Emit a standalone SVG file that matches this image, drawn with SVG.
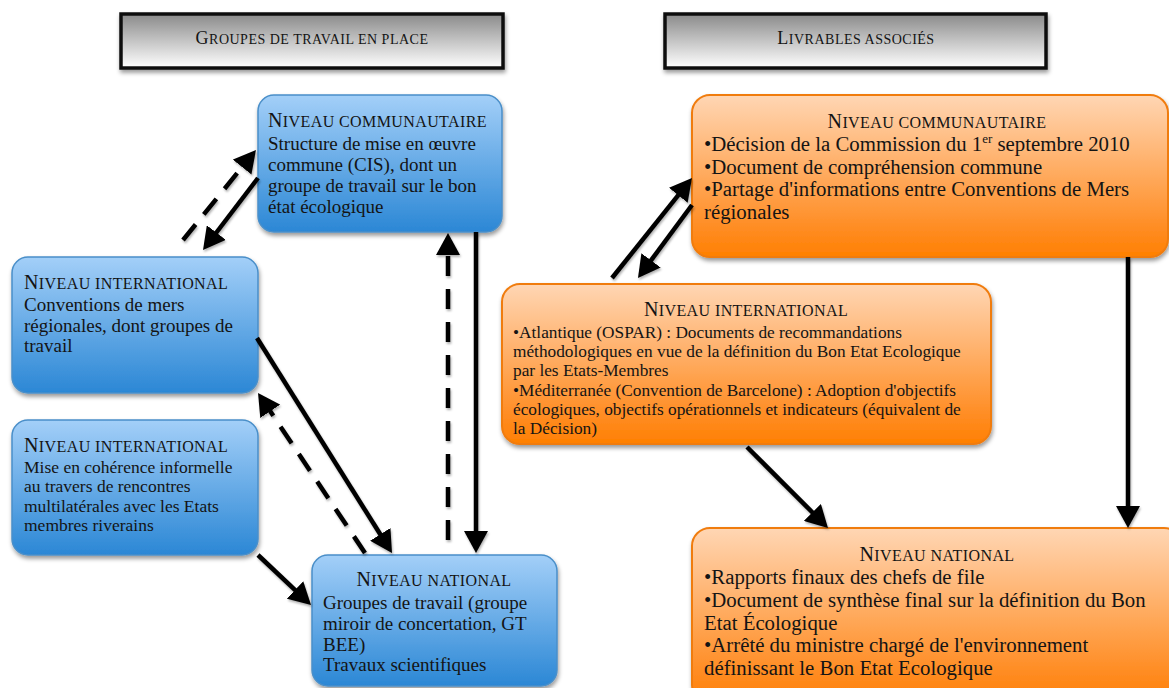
<svg xmlns="http://www.w3.org/2000/svg" width="1169" height="688" viewBox="0 0 1169 688">
<defs>
<linearGradient id="gHead" x1="0" y1="0" x2="0" y2="1"><stop offset="0" stop-color="#8a8a8a"/><stop offset="1" stop-color="#ffffff"/></linearGradient>
<linearGradient id="gBlue" x1="0" y1="0" x2="0" y2="1"><stop offset="0" stop-color="#a3cff8"/><stop offset="1" stop-color="#2b87d5"/></linearGradient>
<linearGradient id="gOrange" x1="0" y1="0" x2="0" y2="1"><stop offset="0" stop-color="#ffd6b4"/><stop offset="0.85" stop-color="#ff8a1e"/><stop offset="1" stop-color="#ff8000"/></linearGradient>
<filter id="sh" x="-10%" y="-10%" width="130%" height="140%"><feDropShadow dx="1" dy="3" stdDeviation="2" flood-color="#000" flood-opacity="0.4"/></filter>
<filter id="ash" x="-20%" y="-20%" width="140%" height="140%"><feDropShadow dx="1" dy="2" stdDeviation="1.2" flood-color="#000" flood-opacity="0.3"/></filter>
<marker id="ah" viewBox="0 0 22 24" refX="10" refY="12" markerWidth="22" markerHeight="24" markerUnits="userSpaceOnUse" orient="auto"><path d="M0,0 L22,12 L0,24 z" fill="#000"/></marker>
</defs>
<style>
.t{font-family:"Liberation Serif","Times New Roman",serif;fill:#141414}
.hd{letter-spacing:0.5px}
.hc{font-size:18px}
.hs{font-size:14px}
.ttl{letter-spacing:0.4px}
.cap{font-size:20px}
.sc{font-size:16px}
.b1{font-size:19px}
.b3{font-size:17.5px}
.ob{font-size:20.8px}
.oi{font-size:17.3px}
.head{fill:url(#gHead);stroke:#111;stroke-width:3.5}
.blue{fill:url(#gBlue);stroke:#4a8fc9;stroke-width:1.5}
.orange{fill:url(#gOrange);stroke:#f07c10;stroke-width:2}
.ln{fill:none;stroke:#000;stroke-width:4.5;marker-end:url(#ah)}
.dash{stroke-dasharray:20 13}
</style>
<rect width="1169" height="688" fill="#fff"/>

<g id="header-groupes">
<rect x="121" y="14" width="382" height="54" class="head" filter="url(#sh)"/>
<text x="312" y="44" text-anchor="middle" class="t hd"><tspan class="hc">G</tspan><tspan class="hs">ROUPES DE TRAVAIL EN PLACE</tspan></text>
</g>
<g id="header-livrables">
<rect x="665" y="14" width="381" height="54" class="head" filter="url(#sh)"/>
<text x="856" y="44" text-anchor="middle" class="t hd"><tspan class="hc">L</tspan><tspan class="hs">IVRABLES ASSOCIÉS</tspan></text>
</g>

<g id="blue-communautaire">
<rect x="258" y="95" width="244" height="137" rx="16" class="blue" filter="url(#sh)"/>
<text x="268" y="127" class="t ttl"><tspan class="cap">N</tspan><tspan class="sc">IVEAU COMMUNAUTAIRE</tspan></text>
<text class="t b1"><tspan x="268" y="150">Structure de mise en œuvre</tspan><tspan x="268" y="171">commune (CIS), dont un</tspan><tspan x="268" y="192">groupe de travail sur le bon</tspan><tspan x="268" y="213">état écologique</tspan></text>
</g>

<g id="blue-international-1">
<rect x="12" y="257" width="246" height="136" rx="16" class="blue" filter="url(#sh)"/>
<text x="24" y="289" class="t ttl"><tspan class="cap">N</tspan><tspan class="sc">IVEAU INTERNATIONAL</tspan></text>
<text class="t b1"><tspan x="24" y="311">Conventions de mers</tspan><tspan x="24" y="332">régionales, dont groupes de</tspan><tspan x="24" y="352">travail</tspan></text>
</g>

<g id="blue-international-2">
<rect x="12" y="420" width="246" height="135" rx="16" class="blue" filter="url(#sh)"/>
<text x="24" y="452" class="t ttl"><tspan class="cap">N</tspan><tspan class="sc">IVEAU INTERNATIONAL</tspan></text>
<text class="t b3"><tspan x="24" y="473">Mise en cohérence informelle</tspan><tspan x="24" y="492">au travers de rencontres</tspan><tspan x="24" y="511.5">multilatérales avec les Etats</tspan><tspan x="24" y="531">membres riverains</tspan></text>
</g>

<g id="blue-national">
<rect x="312" y="555" width="245" height="131" rx="16" class="blue" filter="url(#sh)"/>
<text x="434" y="586" text-anchor="middle" class="t ttl"><tspan class="cap">N</tspan><tspan class="sc">IVEAU NATIONAL</tspan></text>
<text class="t b1"><tspan x="323" y="609">Groupes de travail (groupe</tspan><tspan x="323" y="630">miroir de concertation, GT</tspan><tspan x="323" y="650.5">BEE)</tspan><tspan x="323" y="671">Travaux scientifiques</tspan></text>
</g>

<g id="orange-communautaire">
<rect x="692" y="95" width="476" height="162" rx="18" class="orange" filter="url(#sh)"/>
<text x="937" y="128" text-anchor="middle" class="t ttl"><tspan class="cap">N</tspan><tspan class="sc">IVEAU COMMUNAUTAIRE</tspan></text>
<text class="t ob"><tspan x="704" y="151">•Décision de la Commission du 1</tspan><tspan font-size="13" dy="-8">er</tspan><tspan dy="8"> septembre 2010</tspan><tspan x="704" y="173.5">•Document de compréhension commune</tspan><tspan x="704" y="196">•Partage d'informations entre Conventions de Mers</tspan><tspan x="704" y="218.5">régionales</tspan></text>
</g>

<g id="orange-international">
<rect x="502" y="284" width="489" height="160" rx="18" class="orange" filter="url(#sh)"/>
<text x="746" y="316" text-anchor="middle" class="t ttl"><tspan class="cap">N</tspan><tspan class="sc">IVEAU INTERNATIONAL</tspan></text>
<text class="t oi"><tspan x="513" y="337.5">•Atlantique (OSPAR) : Documents de recommandations</tspan><tspan x="513" y="357">méthodologiques en vue de la définition du Bon Etat Ecologique</tspan><tspan x="513" y="376">par les Etats-Membres</tspan><tspan x="513" y="395.5">•Méditerranée (Convention de Barcelone) : Adoption d'objectifs</tspan><tspan x="513" y="415">écologiques, objectifs opérationnels et indicateurs (équivalent de</tspan><tspan x="513" y="434">la Décision)</tspan></text>
</g>

<g id="orange-national">
<rect x="692" y="528" width="490" height="175" rx="18" class="orange" filter="url(#sh)"/>
<text x="937" y="561" text-anchor="middle" class="t ttl"><tspan class="cap">N</tspan><tspan class="sc">IVEAU NATIONAL</tspan></text>
<text class="t ob"><tspan x="704" y="584">•Rapports finaux des chefs de file</tspan><tspan x="704" y="607">•Document de synthèse final sur la définition du Bon</tspan><tspan x="704" y="629.5">Etat Écologique</tspan><tspan x="704" y="652">•Arrêté du ministre chargé de l'environnement</tspan><tspan x="704" y="674.5">définissant le Bon Etat Ecologique</tspan></text>
</g>

<g id="connectors" filter="url(#ash)">
<path class="ln dash" d="M183,240 L248.4,159.3"/>
<path class="ln" d="M258,178 L210.3,240.5"/>
<path class="ln" d="M257,338 L385.6,542.8"/>
<path class="ln dash" d="M365,553 L264.7,403"/>
<path class="ln dash" d="M448,540 L448,245"/>
<path class="ln" d="M476,232 L476,541"/>
<path class="ln" d="M258,555 L302.3,596.8"/>
<path class="ln" d="M612,278 L684.5,187.4"/>
<path class="ln" d="M692,205 L645.1,268.4"/>
<path class="ln" d="M747,447 L819.5,519.5"/>
<path class="ln" d="M1128,257 L1128,516"/>
</g>
</svg>
